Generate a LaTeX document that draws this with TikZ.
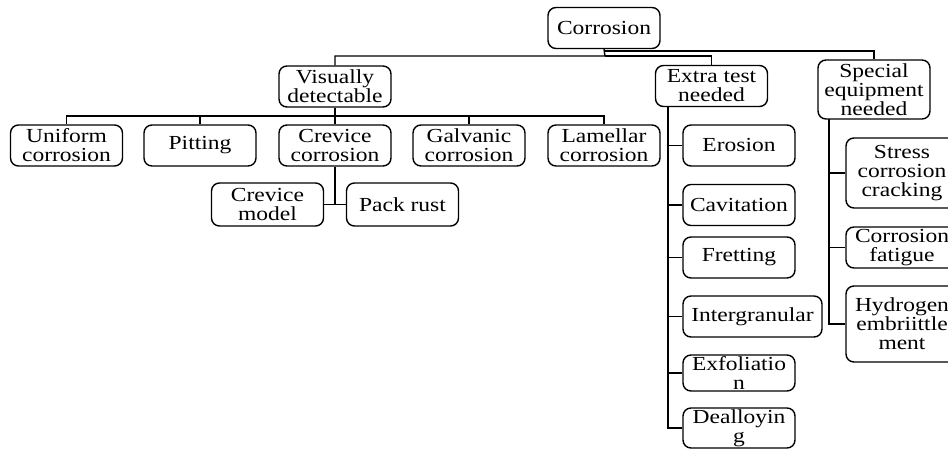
\documentclass[tikz,border=0pt]{standalone}
\usepackage{fontspec}
\setmainfont[FakeStretch=1.18]{Liberation Serif}
\begin{document}
\begin{tikzpicture}[x=0.03cm,y=-0.03cm,line width=1.2pt,
	box/.style={draw,rounded corners=0.24cm,align=center,inner xsep=0pt,inner ysep=0pt,
		minimum width=3.36cm,minimum height=1.23cm,font=\fontsize{17}{16.2}\selectfont}]
	\useasboundingbox (0,0) rectangle (948,451);
	% top level
	\node[box] (corr) at (604,28) {Corrosion};
	\node[box] (vis) at (335,86.5) {Visually\\detectable};
	\node[box] (extra) at (711.5,86) {Extra test\\needed};
	\node[box,minimum height=1.77cm] (spec) at (874,89.5) {Special\\equipment\\needed};
	\coordinate (top1) at (605,56);
	\coordinate (top2) at (605,51);
	\draw (corr.south) -- (top1) -| (vis.north);
	\draw (top1) -| (extra.north);
	\draw (top2) -| (spec.north);
	% visually detectable
	\node[box] (uni) at (66.5,145.5) {Uniform\\corrosion};
	\node[box] (pit) at (200,145.5) {Pitting};
	\node[box] (crev) at (335,145.5) {Crevice\\corrosion};
	\node[box] (galv) at (469,145.5) {Galvanic\\corrosion};
	\node[box] (lam) at (604,145.5) {Lamellar\\corrosion};
	\coordinate (vbar) at (335,116);
	\draw (vis.south) -- (vbar);
	\foreach \n in {uni,pit,crev,galv,lam}
		\draw (vbar) -| (\n.north);
	\node[box,minimum height=1.29cm] (cmod) at (267.5,204.5) {Crevice\\model};
	\node[box,minimum height=1.29cm] (pack) at (402.5,204.5) {Pack rust};
	\coordinate (cj) at (335,204.5);
	\draw (crev.south) -- (cj);
	\draw (cmod.east) -- (pack.west);
	% extra test needed
	\node[box] (eros) at (739,145.5) {Erosion};
	\node[box] (cav) at (739,205) {Cavitation};
	\node[box] (fret) at (739,257.5) {Fretting};
	\node[box,minimum width=4.17cm] (inter) at (752.5,316.5) {Intergranular};
	\node[box,minimum height=1.08cm] (exf) at (739,373) {Exfoliatio\\n};
	\node[box,minimum height=1.2cm] (deal) at (739,428) {Dealloyin\\g};
	\coordinate (etop) at (668,107);
	\draw (etop) |- (deal.west);
	\foreach \n in {eros,cav,fret,inter,exf}
		\draw (\n.west) -- (\n.west -| etop);
	% special equipment needed
	\node[box,minimum height=2.1cm] (stress) at (902,173) {Stress\\corrosion\\cracking};
	\node[box] (cfat) at (902,247.5) {Corrosion\\fatigue};
	\node[box,minimum height=2.28cm] (hyd) at (902,324) {Hydrogen\\embriittle\\ment};
	\coordinate (stop) at (829,119);
	\draw (stop) |- (hyd.west);
	\foreach \n in {stress,cfat}
		\draw (\n.west) -- (\n.west -| stop);
\end{tikzpicture}
\end{document}
